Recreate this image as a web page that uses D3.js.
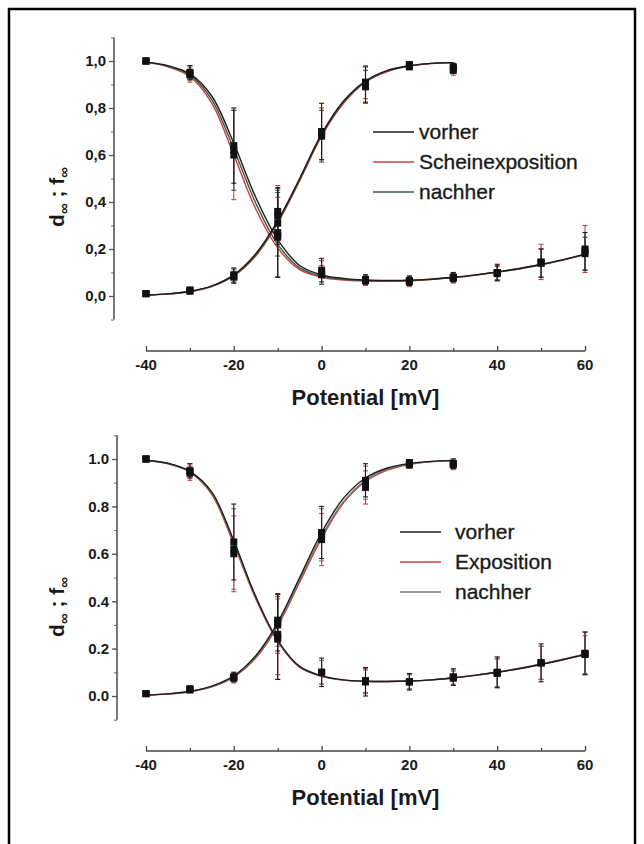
<!DOCTYPE html>
<html>
<head>
<meta charset="utf-8">
<script src="https://cdn.jsdelivr.net/npm/d3@7"></script>
<style>
  html, body { margin: 0; padding: 0; background: #fff; }
  svg { display: block; }
  text { font-family: "Liberation Sans", Arial, sans-serif; fill: #1a1a1a; }
</style>
</head>
<body>
<svg id="chart" width="644" height="844"></svg>
<script>
// ---------------- DATA ----------------
const xTicks = [-40, -20, 0, 20, 40, 60];
const xTickLabels = ["-40", "-20", "0", "20", "40", "60"];
const yTicks = [0, 0.2, 0.4, 0.6, 0.8, 1.0];
const topYTickLabels = ["0,0", "0,2", "0,4", "0,6", "0,8", "1,0"];
const bottomYTickLabels = ["0.0", "0.2", "0.4", "0.6", "0.8", "1.0"];
const xTitle = "Potential [mV]";

const topLegend = ["vorher", "Scheinexposition", "nachher"];
const bottomLegend = ["vorher", "Exposition", "nachher"];
const topColors = ["#1c1c1c", "#c8423c", "#3d5a4a"];
const bottomColors = ["#1c1c1c", "#c8423c", "#777777"];

// measured potentials
const vAct = [-40, -30, -20, -10, 0, 10, 20, 30];
const vInact = [-40, -30, -20, -10, 0, 10, 20, 30, 40, 50, 60];
// fitted curve sample potentials
const vFitAct = [-40, -35, -30, -25, -20, -15, -10, -5, 0, 5, 10, 15, 20, 25, 30];
const vFitInact = [-40, -35, -30, -25, -20, -15, -10, -5, 0, 5, 10, 15, 20, 25, 30, 35, 40, 45, 50, 55, 60];

// ---- top panel (vorher / Scheinexposition / nachher) ----
const topVorherD     = [0.01, 0.025, 0.085, 0.34, 0.70, 0.90, 0.985, 0.975];
const topVorherDErr  = [0.005, 0.01, 0.03, 0.12, 0.12, 0.075, 0.01, 0.015];
const topScheinD     = [0.01, 0.02, 0.08, 0.36, 0.69, 0.91, 0.975, 0.96];
const topScheinDErr  = [0.005, 0.01, 0.025, 0.11, 0.11, 0.07, 0.01, 0.02];
const topNachherD    = [0.01, 0.025, 0.09, 0.31, 0.68, 0.89, 0.98, 0.97];
const topNachherDErr = [0.005, 0.01, 0.03, 0.14, 0.11, 0.07, 0.01, 0.02];

const topVorherF     = [1.0, 0.95, 0.64, 0.27, 0.11, 0.07, 0.065, 0.08, 0.10, 0.14, 0.19];
const topVorherFErr  = [0.003, 0.03, 0.16, 0.19, 0.05, 0.02, 0.02, 0.02, 0.035, 0.06, 0.08];
const topScheinF     = [1.0, 0.94, 0.60, 0.25, 0.09, 0.065, 0.06, 0.075, 0.10, 0.145, 0.20];
const topScheinFErr  = [0.003, 0.03, 0.19, 0.17, 0.04, 0.02, 0.02, 0.02, 0.03, 0.075, 0.10];
const topNachherF    = [1.0, 0.95, 0.62, 0.26, 0.10, 0.07, 0.065, 0.08, 0.095, 0.14, 0.18];
const topNachherFErr = [0.003, 0.03, 0.17, 0.18, 0.05, 0.02, 0.02, 0.02, 0.03, 0.06, 0.07];

const topVorherDFit  = [0.004, 0.009, 0.02, 0.043, 0.09, 0.18, 0.32, 0.50, 0.69, 0.83, 0.915, 0.96, 0.98, 0.99, 0.993];
const topScheinDFit  = [0.004, 0.008, 0.018, 0.04, 0.085, 0.17, 0.31, 0.49, 0.68, 0.82, 0.91, 0.955, 0.978, 0.989, 0.993];
const topNachherDFit = [0.004, 0.009, 0.019, 0.042, 0.088, 0.175, 0.315, 0.495, 0.685, 0.825, 0.912, 0.958, 0.979, 0.99, 0.993];
const topVorherFFit  = [0.995, 0.98, 0.945, 0.85, 0.65, 0.42, 0.24, 0.13, 0.09, 0.075, 0.068, 0.066, 0.067, 0.072, 0.08, 0.09, 0.103, 0.117, 0.135, 0.155, 0.178];
const topScheinFFit  = [0.995, 0.975, 0.933, 0.82, 0.60, 0.37, 0.205, 0.112, 0.08, 0.068, 0.064, 0.063, 0.065, 0.07, 0.078, 0.088, 0.101, 0.115, 0.133, 0.153, 0.176];
const topNachherFFit = [0.995, 0.978, 0.94, 0.835, 0.625, 0.395, 0.22, 0.12, 0.085, 0.071, 0.066, 0.065, 0.066, 0.071, 0.079, 0.089, 0.102, 0.116, 0.134, 0.154, 0.177];

// ---- bottom panel (vorher / Exposition / nachher) ----
const botVorherD     = [0.01, 0.03, 0.08, 0.31, 0.69, 0.91, 0.985, 0.98];
const botVorherDErr  = [0.005, 0.01, 0.02, 0.12, 0.11, 0.07, 0.01, 0.02];
const botExpoD       = [0.01, 0.025, 0.075, 0.30, 0.66, 0.88, 0.975, 0.975];
const botExpoDErr    = [0.005, 0.01, 0.02, 0.12, 0.11, 0.07, 0.015, 0.02];
const botNachherD    = [0.01, 0.03, 0.08, 0.32, 0.68, 0.90, 0.98, 0.98];
const botNachherDErr = [0.005, 0.01, 0.02, 0.11, 0.11, 0.07, 0.01, 0.02];

const botVorherF     = [1.0, 0.95, 0.65, 0.25, 0.10, 0.06, 0.06, 0.08, 0.10, 0.14, 0.18];
const botVorherFErr  = [0.003, 0.03, 0.16, 0.18, 0.06, 0.06, 0.035, 0.035, 0.065, 0.08, 0.09];
const botExpoF       = [1.0, 0.94, 0.60, 0.26, 0.10, 0.06, 0.06, 0.075, 0.10, 0.14, 0.18];
const botExpoFErr    = [0.003, 0.03, 0.16, 0.17, 0.05, 0.05, 0.03, 0.03, 0.06, 0.07, 0.09];
const botNachherF    = [1.0, 0.95, 0.62, 0.24, 0.10, 0.065, 0.06, 0.08, 0.095, 0.14, 0.175];
const botNachherFErr = [0.003, 0.03, 0.17, 0.17, 0.05, 0.05, 0.03, 0.03, 0.06, 0.07, 0.08];

const botVorherDFit  = [0.004, 0.009, 0.02, 0.042, 0.085, 0.17, 0.31, 0.50, 0.69, 0.835, 0.92, 0.962, 0.981, 0.99, 0.994];
const botExpoDFit    = [0.004, 0.008, 0.018, 0.039, 0.08, 0.16, 0.295, 0.48, 0.665, 0.815, 0.905, 0.953, 0.977, 0.988, 0.993];
const botNachherDFit = [0.004, 0.009, 0.019, 0.04, 0.082, 0.165, 0.30, 0.49, 0.675, 0.82, 0.91, 0.957, 0.979, 0.989, 0.993];
const botVorherFFit  = [0.995, 0.982, 0.948, 0.86, 0.655, 0.42, 0.235, 0.125, 0.085, 0.068, 0.062, 0.061, 0.063, 0.068, 0.076, 0.087, 0.1, 0.115, 0.133, 0.153, 0.175];
const botExpoFFit    = [0.995, 0.98, 0.944, 0.85, 0.64, 0.41, 0.23, 0.122, 0.083, 0.067, 0.062, 0.061, 0.063, 0.068, 0.077, 0.088, 0.101, 0.117, 0.135, 0.155, 0.178];
const botNachherFFit = [0.995, 0.981, 0.946, 0.855, 0.648, 0.415, 0.232, 0.123, 0.084, 0.067, 0.062, 0.061, 0.063, 0.068, 0.076, 0.087, 0.1, 0.116, 0.134, 0.154, 0.176];

// ---------------- DRAW ----------------
const svg = d3.select("#chart");

// outer frame
svg.append("rect")
  .attr("x", 9).attr("y", 9).attr("width", 626).attr("height", 880)
  .attr("fill", "none").attr("stroke", "#000").attr("stroke-width", 2.5);

function makeSeries(names, colors, d, dErr, f, fErr, dFit, fFit) {
  return names.map((n, i) => ({
    name: n, color: colors[i],
    d: vAct.map((v, j) => ({ v, y: d[i][j], e: dErr[i][j] })),
    f: vInact.map((v, j) => ({ v, y: f[i][j], e: fErr[i][j] })),
    dFit: vFitAct.map((v, j) => ({ v, y: dFit[i][j] })),
    fFit: vFitInact.map((v, j) => ({ v, y: fFit[i][j] }))
  }));
}

const panels = [
  {
    yTop: 37.5, yBottom: 319.5, yAxisX: 114, xAxisY: 351, yTitleY: 197,
    yLabels: topYTickLabels, legendX: 373, legendTextX: 419, legendY: 132,
    series: makeSeries(topLegend, topColors,
      [topVorherD, topScheinD, topNachherD], [topVorherDErr, topScheinDErr, topNachherDErr],
      [topVorherF, topScheinF, topNachherF], [topVorherFErr, topScheinFErr, topNachherFErr],
      [topVorherDFit, topScheinDFit, topNachherDFit], [topVorherFFit, topScheinFFit, topNachherFFit])
  },
  {
    yTop: 435.3, yBottom: 719.7, yAxisX: 117, xAxisY: 751, yTitleY: 607,
    yLabels: bottomYTickLabels, legendX: 400, legendTextX: 455, legendY: 532,
    series: makeSeries(bottomLegend, bottomColors,
      [botVorherD, botExpoD, botNachherD], [botVorherDErr, botExpoDErr, botNachherDErr],
      [botVorherF, botExpoF, botNachherF], [botVorherFErr, botExpoFErr, botNachherFErr],
      [botVorherDFit, botExpoDFit, botNachherDFit], [botVorherFFit, botExpoFFit, botNachherFFit])
  }
];

const x = d3.scaleLinear().domain([-40, 60]).range([146, 585]);

panels.forEach((p) => {
  const g = svg.append("g");
  const y = d3.scaleLinear().domain([-0.1, 1.1]).range([p.yBottom, p.yTop]);

  // ---- y axis ----
  const yAxisG = g.append("g").attr("transform", `translate(${p.yAxisX},0)`);
  yAxisG.call(d3.axisLeft(y).tickValues(d3.range(-0.1, 1.11, 0.1).map(v => +v.toFixed(2)))
      .tickSize(3).tickFormat(""))
    .call(s => s.select(".domain").remove());
  yAxisG.selectAll(".tick line").attr("stroke", "#666").attr("stroke-width", 1);
  const yMajor = g.append("g").attr("transform", `translate(${p.yAxisX},0)`);
  yMajor.call(d3.axisLeft(y).tickValues(yTicks).tickSize(5).tickPadding(3)
      .tickFormat((d, i) => p.yLabels[i]));
  yMajor.select(".domain").attr("d", `M0,${p.yBottom}V${p.yTop}`).attr("stroke", "#555").attr("stroke-width", 1.6);
  yMajor.selectAll(".tick line").attr("stroke", "#555").attr("stroke-width", 1.3);
  yMajor.selectAll(".tick text").attr("font-size", 15).attr("font-weight", "bold").attr("fill", "#222")
    .style("font-family", "'Liberation Sans', Arial, sans-serif");

  // y title
  const yt = g.append("text")
    .attr("transform", `translate(64,${p.yTitleY}) rotate(-90)`)
    .attr("text-anchor", "middle").attr("font-size", 21).attr("font-weight", "bold");
  yt.append("tspan").text("d");
  yt.append("tspan").attr("font-size", 15).attr("dy", 5).text("∞");
  yt.append("tspan").attr("dy", -5).text(" ; f");
  yt.append("tspan").attr("font-size", 15).attr("dy", 5).text("∞");

  // ---- x axis ----
  const xMinor = g.append("g").attr("transform", `translate(0,${p.xAxisY})`);
  xMinor.call(d3.axisTop(x).tickValues(d3.range(-30, 60, 20)).tickSize(3).tickFormat(""));
  xMinor.select(".domain").remove();
  xMinor.selectAll(".tick line").attr("stroke", "#444").attr("stroke-width", 1.3);
  const xMajor = g.append("g").attr("transform", `translate(0,${p.xAxisY})`);
  xMajor.call(d3.axisTop(x).tickValues(xTicks).tickSize(5).tickFormat(""));
  xMajor.select(".domain").attr("d", `M${x(-40)},0H${x(60)}`).attr("stroke", "#444").attr("stroke-width", 1.6);
  xMajor.selectAll(".tick line").attr("stroke", "#444").attr("stroke-width", 1.3);
  g.append("g").selectAll("text").data(xTicks).join("text")
    .attr("x", d => x(d)).attr("y", p.xAxisY + 19)
    .attr("text-anchor", "middle").attr("font-size", 15).attr("font-weight", "bold").attr("fill", "#222")
    .text((d, i) => xTickLabels[i]);
  g.append("text").attr("x", x(10)).attr("y", p.xAxisY + 54)
    .attr("text-anchor", "middle").attr("font-size", 22).attr("font-weight", "bold")
    .text(xTitle);

  // ---- fitted curves ----
  const line = d3.line().x(d => x(d.v)).y(d => y(d.y)).curve(d3.curveCatmullRom.alpha(0.5));
  const order = [1, 2, 0];
  order.forEach(i => {
    const s = p.series[i];
    g.append("path").attr("d", line(s.dFit)).attr("fill", "none").attr("stroke", s.color).attr("stroke-width", 1.4);
    g.append("path").attr("d", line(s.fFit)).attr("fill", "none").attr("stroke", s.color).attr("stroke-width", 1.4);
  });

  // ---- error bars ----
  order.forEach(i => {
    const s = p.series[i];
    const pts = s.d.concat(s.f);
    const eb = g.append("g").attr("stroke", s.color).attr("stroke-width", 1.1);
    eb.selectAll("line.v").data(pts).join("line")
      .attr("x1", d => x(d.v)).attr("x2", d => x(d.v))
      .attr("y1", d => y(d.y - d.e)).attr("y2", d => y(d.y + d.e));
    eb.selectAll("line.t").data(pts).join("line")
      .attr("x1", d => x(d.v) - 2.5).attr("x2", d => x(d.v) + 2.5)
      .attr("y1", d => y(d.y + d.e)).attr("y2", d => y(d.y + d.e));
    eb.selectAll("line.b").data(pts).join("line")
      .attr("x1", d => x(d.v) - 2.5).attr("x2", d => x(d.v) + 2.5)
      .attr("y1", d => y(d.y - d.e)).attr("y2", d => y(d.y - d.e));
  });

  // ---- markers ----
  order.forEach(i => {
    const s = p.series[i];
    g.append("g").selectAll("rect").data(s.d.concat(s.f)).join("rect")
      .attr("x", d => x(d.v) - 3.5).attr("y", d => y(d.y) - 3.5)
      .attr("width", 7).attr("height", 7).attr("fill", "#111");
  });

  // ---- legend ----
  const lg = g.append("g");
  p.series.forEach((s, i) => {
    const ly = p.legendY + i * 30;
    lg.append("line").attr("x1", p.legendX).attr("x2", p.legendX + 41)
      .attr("y1", ly).attr("y2", ly).attr("stroke", s.color).attr("stroke-width", 1.4);
    lg.append("text").attr("x", p.legendTextX).attr("y", ly + 7)
      .attr("font-size", 21).attr("fill", "#1a1a1a")
      .attr("stroke", "#1a1a1a").attr("stroke-width", 0.35)
      .text(s.name);
  });
});
</script>
</body>
</html>
